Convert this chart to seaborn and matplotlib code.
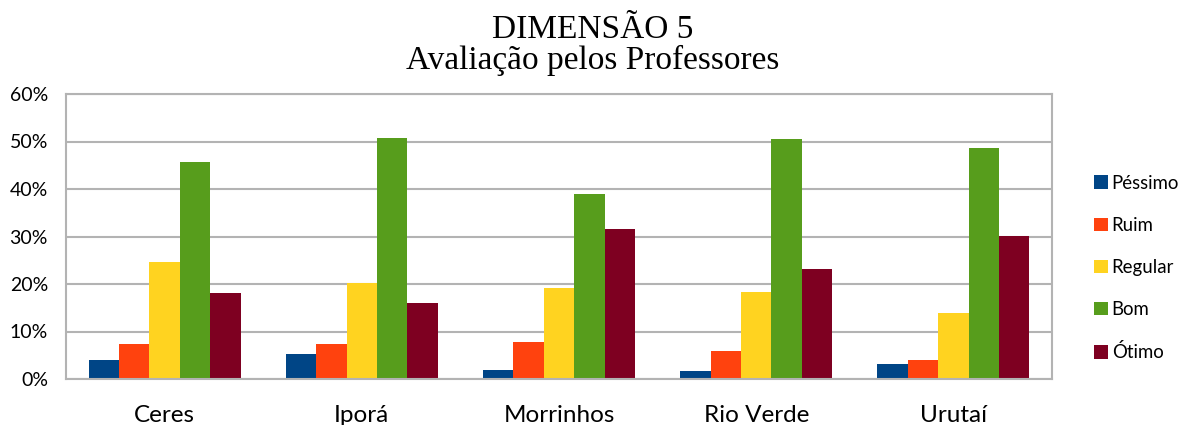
import matplotlib
matplotlib.use("Agg")
import matplotlib.pyplot as plt
import seaborn as sns
import pandas as pd
from matplotlib.ticker import FuncFormatter, MultipleLocator
from matplotlib.patches import Patch

campi = ["Ceres", "Iporá", "Morrinhos", "Rio Verde", "Urutaí"]
series = ["Péssimo", "Ruim", "Regular", "Bom", "Ótimo"]
pessimo = [3.9, 5.3, 2.0, 1.6, 3.2]
ruim = [7.4, 7.4, 7.7, 6.0, 4.0]
regular = [24.7, 20.2, 19.2, 18.3, 13.8]
bom = [45.6, 50.7, 39.0, 50.5, 48.6]
otimo = [18.1, 16.0, 31.6, 23.2, 30.2]
colors = ["#004586", "#FF420E", "#FFD320", "#579D1C", "#7E0021"]

rows = []
for name, vals in zip(series, [pessimo, ruim, regular, bom, otimo]):
    for c, v in zip(campi, vals):
        rows.append({"Campus": c, "Avaliação": name, "Valor": v})
df = pd.DataFrame(rows)

sns.set_theme(style="white")
plt.rcParams["font.family"] = ["Lato", "DejaVu Sans"]
plt.rcParams["text.color"] = "black"

W, H = 1186, 425
fig = plt.figure(figsize=(W / 100, H / 100), dpi=100)
ax = fig.add_axes([66 / W, 1 - 379 / H, (1052 - 66) / W, (379 - 94) / H])

sns.barplot(data=df, x="Campus", y="Valor", hue="Avaliação", order=campi,
            hue_order=series, palette=colors, width=0.77, saturation=1,
            linewidth=0, ax=ax, legend=False)

ax.set_ylim(0, 60)
ax.set_xlim(-0.5, 4.5)
ax.yaxis.set_major_locator(MultipleLocator(10))
ax.yaxis.set_major_formatter(FuncFormatter(lambda v, p: f"{v:.0f}%"))
ax.grid(axis="y", color="#b3b3b3", linewidth=1.5)
ax.set_axisbelow(True)
for s in ax.spines.values():
    s.set_color("#b3b3b3")
    s.set_linewidth(1.5)
ax.set_xlabel("")
ax.set_ylabel("")
ax.tick_params(axis="y", labelsize=14, pad=13, length=0, colors="black")
ax.tick_params(axis="x", labelsize=17.5, pad=19, length=0, colors="black")

fig.text(0.5, 1 - 38 / H, "DIMENSÃO 5", ha="center", va="baseline",
         family="Liberation Serif", fontsize=24, color="black")
fig.text(0.5, 1 - 69 / H, "Avaliação pelos Professores", ha="center", va="baseline",
         family="Liberation Serif", fontsize=24, color="black")

handles = [Patch(facecolor=c, edgecolor="none") for c in colors]
fig.legend(handles, series, loc="center left", bbox_to_anchor=(1094 / W, 1 - 268 / H),
           frameon=False, fontsize=13.4, handlelength=0.75, handleheight=0.75,
           handletextpad=0.2, labelspacing=1.35, borderpad=0, borderaxespad=0,
           labelcolor="black")

fig.savefig("out.png", dpi=100)
